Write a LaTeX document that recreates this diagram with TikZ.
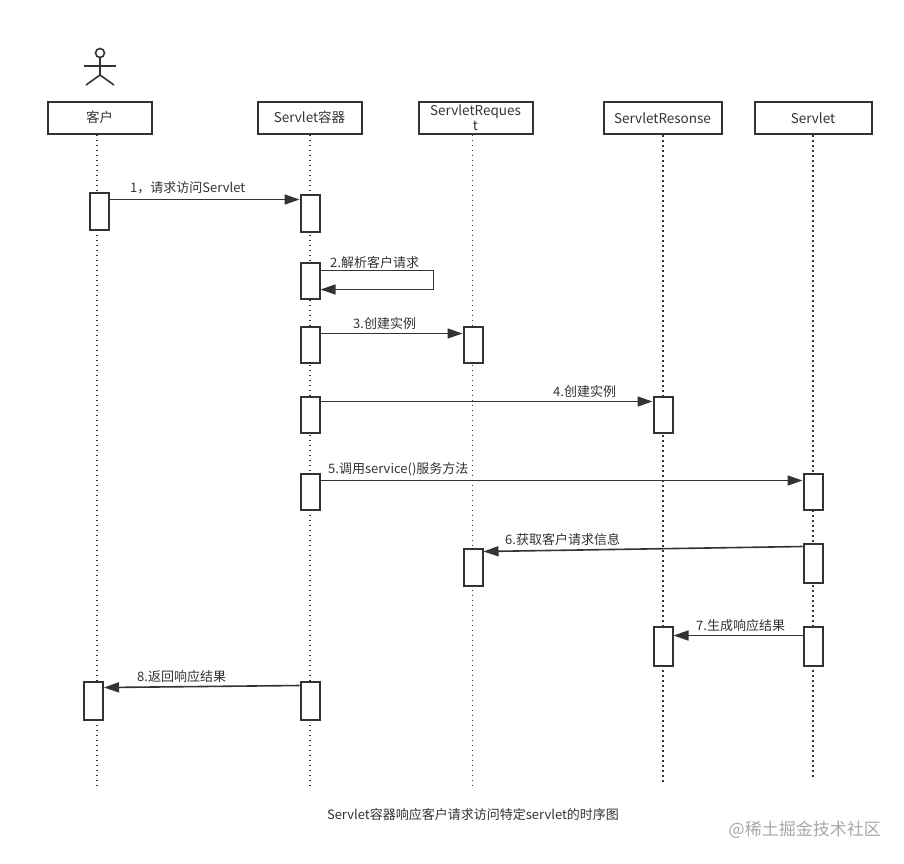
\documentclass[tikz,border=0pt]{standalone}
\usepackage{fontspec}
\setmainfont{Noto Sans CJK SC}
\usetikzlibrary{arrows.meta}
\definecolor{ink}{HTML}{333333}
\definecolor{wm}{HTML}{A8A8A8}
\begin{document}
\begin{tikzpicture}[x=1pt,y=-1pt,
  hdr/.style={draw=ink,line width=2pt,minimum height=32pt,inner sep=0pt,align=center,
    font=\fontsize{13.5}{16}\selectfont,text=ink},
  act/.style={draw=ink,fill=white,line width=2pt,minimum width=19pt,minimum height=#1,inner sep=0pt},
  act/.default=36pt,
  life/.style={draw=ink,line width=1.7pt,dash pattern=on 1.9pt off 3.1pt},
  msg/.style={draw=ink,line width=1.6pt,-{Triangle[length=15pt,width=10pt]}},
  lbl/.style={anchor=west,inner sep=0pt,text=ink,font=\fontsize{13}{15}\selectfont},
  actor/.style={draw=ink,line width=1.6pt},
]
\fill[white] (0,0) rectangle (904,863);
\useasboundingbox (0,0) rectangle (904,863);

% actor
\node[actor,circle,minimum size=9pt,inner sep=0pt] (head) at (100,53) {};
\coordinate (hip) at (100,75);
\coordinate (armL) at (84,66);
\coordinate (armR) at (116,66);
\coordinate (legL) at (86,85);
\coordinate (legR) at (114,85);
\draw[actor] (head.south) -- (hip);
\draw[actor] (armL) -- (armR);
\draw[actor] (legL) -- (hip) -- (legR);

% headers
\node[hdr,minimum width=104pt] (hc) at (99.5,117.5) {客户};
\node[hdr,minimum width=104pt] (hs) at (309.5,117.5) {Servlet容器};
\node[hdr,minimum width=114pt] (hq) at (475.5,117.5) {ServletReques\\[-1pt]t};
\node[hdr,minimum width=118pt] (hr) at (662.5,118) {ServletResonse};
\node[hdr,minimum width=117pt] (hv) at (813,118) {Servlet};

% lifeline ends
\coordinate (ec) at (97,785);
\coordinate (es) at (310,786);
\coordinate (eq) at (472.5,789);
\coordinate (er) at (663,782);
\coordinate (ev) at (813,777);
\draw[life] (hc.south -| ec) -- (ec);
\draw[life] (hs.south -| es) -- (es);
\draw[life] (hq.south -| eq) -- (eq);
\draw[life] (hr.south -| er) -- (er);
\draw[life] (hv.south -| ev) -- (ev);

% activations
\node[act=37pt] (a1c) at (99.5,211) {};
\node[act=37pt] (a1s) at (310,213) {};
\node[act] (a2s) at (310,280.5) {};
\node[act] (a3s) at (310,344.5) {};
\node[act] (a3q) at (473,344.5) {};
\node[act] (a4s) at (310,414.5) {};
\node[act] (a4r) at (663,414.5) {};
\node[act] (a5s) at (310,491.5) {};
\node[act] (a5v) at (813,491.5) {};
\node[act=37pt] (a6q) at (473,567) {};
\node[act=39pt] (a6v) at (813,563) {};
\node[act=39pt] (a7r) at (663,646) {};
\node[act=39pt] (a7v) at (813,646) {};
\node[act=38pt] (a8c) at (93.5,700.5) {};
\node[act=38pt] (a8s) at (310,700.5) {};

% messages
\draw[msg] ([yshift=-8pt]a1c.north east) -- ([yshift=-6pt]a1s.north west);
\node[lbl] (l1) at (130,188) {1，请求访问Servlet};

\draw[msg] ([yshift=-9pt]a2s.north east) -- ++(113,0) |- ([yshift=-28pt]a2s.north east);
\node[lbl] (l2) at (330,263) {2.解析客户请求};

\draw[msg] ([yshift=-8pt]a3s.north east) -- ([yshift=-8pt]a3q.north west);
\node[lbl] (l3) at (353,324) {3.创建实例};

\draw[msg] ([yshift=-6pt]a4s.north east) -- ([yshift=-6pt]a4r.north west);
\node[lbl] (l4) at (553,392) {4.创建实例};

\draw[msg] ([yshift=-8pt]a5s.north east) -- ([yshift=-8pt]a5v.north west);
\node[lbl] (l5) at (328,469) {5.调用service()服务方法};

\draw[msg] ([yshift=-4pt]a6v.north west) -- ([yshift=-4pt]a6q.north east);
\node[lbl] (l6) at (505,540) {6.获取客户请求信息};

\draw[msg] ([yshift=-10pt]a7v.north west) -- ([yshift=-10pt]a7r.north east);
\node[lbl] (l7) at (696,626) {7.生成响应结果};

\draw[msg] ([yshift=-5pt]a8s.north west) -- ([yshift=-7pt]a8c.north east);
\node[lbl] (l8) at (137,677) {8.返回响应结果};

% caption and watermark
\node[inner sep=0pt,text=ink,font=\fontsize{13}{15}\selectfont] (cap) at (473,815) {Servlet容器响应客户请求访问特定servlet的时序图};
\node[anchor=east,inner sep=0pt,text=wm,font=\fontsize{17}{20}\selectfont] (wmk) at (881,830) {@稀土掘金技术社区};
\end{tikzpicture}
\end{document}
